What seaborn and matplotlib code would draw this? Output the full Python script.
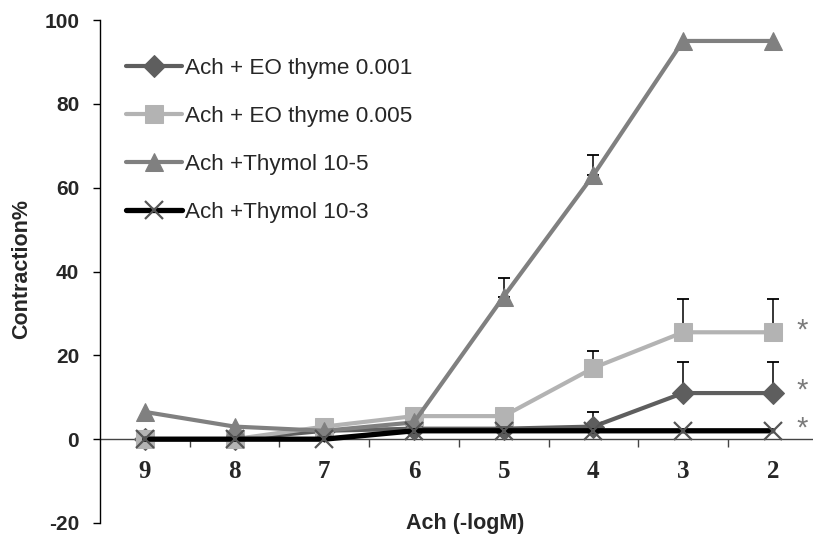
import numpy as np
import pandas as pd
import matplotlib
matplotlib.use("Agg")
import matplotlib.pyplot as plt
import seaborn as sns

# ---- data ----
categories = ["9", "8", "7", "6", "5", "4", "3", "2"]
series_names = ["Ach + EO thyme 0.001", "Ach + EO thyme 0.005",
                "Ach +Thymol 10-5", "Ach +Thymol 10-3"]
eo_001 = [0, 0, 2, 2.5, 2.5, 3, 11, 11]
eo_005 = [0, 0, 3, 5.5, 5.5, 17, 25.5, 25.5]
thy_5 = [6.5, 3, 2, 4, 34, 63, 95, 95]
thy_3 = [0, 0, 0, 2, 2, 2, 2, 2]
err_001 = [0, 0, 0, 0, 0, 3.5, 7.3, 7.3]
err_005 = [0, 0, 0, 0, 0, 4, 8, 8]
err_t5 = [0, 0, 0, 0, 4.5, 4.8, 0, 0]
err_t3 = [0, 0, 0, 0, 0, 0, 0, 0]
signif = [True, True, False, True]
yticks = [-20, 0, 20, 40, 60, 80, 100]

values = [eo_001, eo_005, thy_5, thy_3]
errors = [err_001, err_005, err_t5, err_t3]

styles = [
    dict(color="#5e5e5e", marker="D", markersize=11.5, markerfacecolor="#5e5e5e",
         markeredgecolor="#5e5e5e", linewidth=3.0),
    dict(color="#b3b3b3", marker="s", markersize=12.5, markerfacecolor="#b3b3b3",
         markeredgecolor="#b3b3b3", linewidth=3.0),
    dict(color="#808080", marker="^", markersize=13.5, markerfacecolor="#808080",
         markeredgecolor="#808080", linewidth=3.0),
    dict(color="black", marker="x", markersize=12.5, markeredgecolor="#555555",
         markeredgewidth=1.6, linewidth=3.8),
]

sns.set_theme(style="white")
plt.rcParams["font.family"] = ["Liberation Sans", "DejaVu Sans"]
plt.rcParams["axes.unicode_minus"] = False

fig = plt.figure(figsize=(8.13, 5.40), dpi=100)
ax = fig.add_axes([100 / 813, 17 / 540, 717.6 / 813, 503 / 540])

for name, vals, err, st in zip(series_names, values, errors, styles):
    df = pd.DataFrame({"x": categories, "y": vals})
    sns.lineplot(data=df, x="x", y="y", sort=False, ax=ax, label=name,
                 zorder=3, **st)
    idx = [i for i, e in enumerate(err) if e > 0]
    if idx:
        ax.errorbar([categories[i] for i in idx], [vals[i] for i in idx],
                    yerr=[[0] * len(idx), [err[i] for i in idx]],
                    fmt="none", ecolor="black", elinewidth=1.1,
                    capsize=4.5, capthick=1.3, zorder=2)

# significance marks
for vals, sig in zip(values, signif):
    if sig:
        ax.text(7.33, vals[-1] + 0.5, "*", ha="center", va="center",
                fontsize=21, color="#7a7a7a", clip_on=False)

ax.set_xlim(-0.5, 7.5)
ax.set_ylim(-20, 100)
ax.set_yticks(yticks)
ax.set_xticks(range(len(categories)))
ax.set_xticklabels(categories)
ax.set_xticks(np.arange(0.5, len(categories), 1.0), minor=True)

for s in ["top", "right"]:
    ax.spines[s].set_visible(False)
ax.spines["left"].set_color("black")
ax.spines["left"].set_linewidth(1.0)
ax.spines["bottom"].set_position(("data", 0))
ax.spines["bottom"].set_color("#444444")
ax.spines["bottom"].set_linewidth(1.0)
ax.spines["bottom"].set_zorder(1)

ax.tick_params(axis="y", which="major", direction="out", length=5, width=1,
               color="black", pad=10, left=True)
ax.tick_params(axis="x", which="major", length=0, pad=15, bottom=True)
ax.tick_params(axis="x", which="minor", direction="out", length=5.5, width=1,
               color="#444444", bottom=True)
for lab in ax.get_yticklabels():
    lab.set_fontsize(15)
    lab.set_fontweight("bold")
    lab.set_family(["Liberation Sans"])
for lab in ax.get_xticklabels():
    lab.set_fontsize(18)
    lab.set_fontweight("bold")
    lab.set_family(["Liberation Serif"])

ax.set_xlabel("")
ax.set_ylabel("")
fig.text(22 / 813, 1 - 269 / 540, "Contraction%", rotation=90, ha="center",
         va="center", fontsize=15.5, fontweight="bold")
fig.text(465 / 813, 1 - 524 / 540, "Ach (-logM)", ha="center", va="center",
         fontsize=15.5, fontweight="bold")

leg = ax.legend(loc="upper left", bbox_to_anchor=(126 / 813, 1 - 58 / 540),
                bbox_transform=fig.transFigure, frameon=False,
                handlelength=2.5, handletextpad=0.1, labelspacing=1.2,
                borderpad=0, borderaxespad=0, fontsize=16.2)

fig.savefig("out.png", dpi=100)
